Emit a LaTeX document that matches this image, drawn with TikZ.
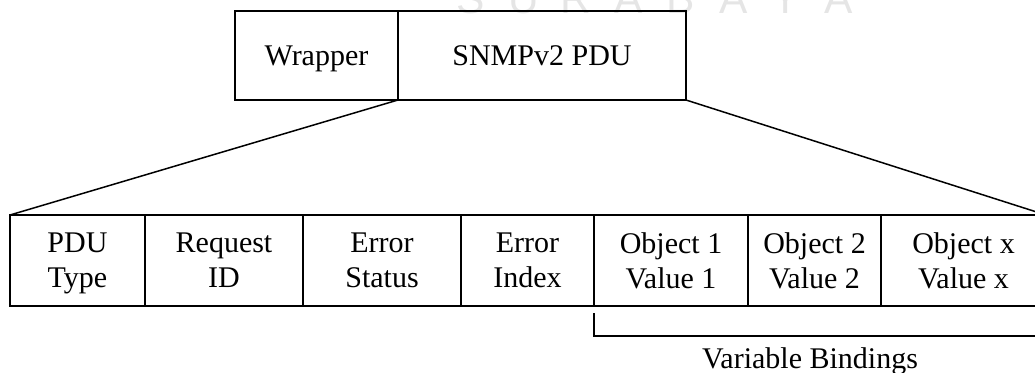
\documentclass[tikz,border=0pt]{standalone}
\usepackage{fontspec}
\setmainfont{Liberation Serif}
\newfontfamily\wmfont{Liberation Sans}
\usepackage{tikz}
\tikzstyle{box}=[rectangle, draw=black, line width=0.6pt, inner sep=0pt, outer sep=0pt, text depth=0pt, minimum height=35.6pt, align=center, font=\fontsize{12}{14}\selectfont]
\tikzstyle{cell}=[box, minimum height=36.4pt, anchor=west]
\tikzstyle{annot}=[align=center, font=\fontsize{12}{14}\selectfont]
\tikzstyle{wmark}=[text=black!10, font=\wmfont\fontsize{17}{17}\selectfont, anchor=base]
\tikzstyle{link}=[line width=0.6pt]

\begin{document}
\begin{tikzpicture}[x=0.4pt, y=-0.4pt]
	\useasboundingbox (0,0) rectangle (1035,373);
	\clip (0,0) rectangle (1035,373);

	% watermark
	\foreach \l [count=\i] in {S,U,R,A,B,A,Y,A}
		\node[wmark] (wm\i) at ({471+52.5*(\i-1)}, 13) {\l};

	\node[box, minimum width=65.2pt](wrapper) at (316.5,55.5){Wrapper};
	\node[box, minimum width=115.2pt](pdu) at (542,55.5){SNMPv2 PDU};

	\node[cell, minimum width=54pt](type) at (10,260.5){PDU\\Type};
	\node[cell, minimum width=63.2pt](reqid) at (type.east){Request\\ID};
	\node[cell, minimum width=63.2pt](status) at (reqid.east){Error\\Status};
	\node[cell, minimum width=53.2pt](index) at (status.east){Error\\Index};
	\node[cell, minimum width=61.6pt](objone) at (index.east){Object 1\\Value 1};
	\node[cell, minimum width=53.2pt](objtwo) at (objone.east){Object 2\\Value 2};
	\node[cell, minimum width=66pt](objx) at (objtwo.east){Object x\\Value x};

	\draw[link] (pdu.south west) -- (type.north west);
	\draw[link] (pdu.south east) -- (objx.north east);

	\coordinate (bindend) at (1046,336);
	\draw[link] ([yshift=-2.8pt]objone.south west) |- (bindend);
	\node[annot](bindings) at (810,361){Variable Bindings};
\end{tikzpicture}
\end{document}
